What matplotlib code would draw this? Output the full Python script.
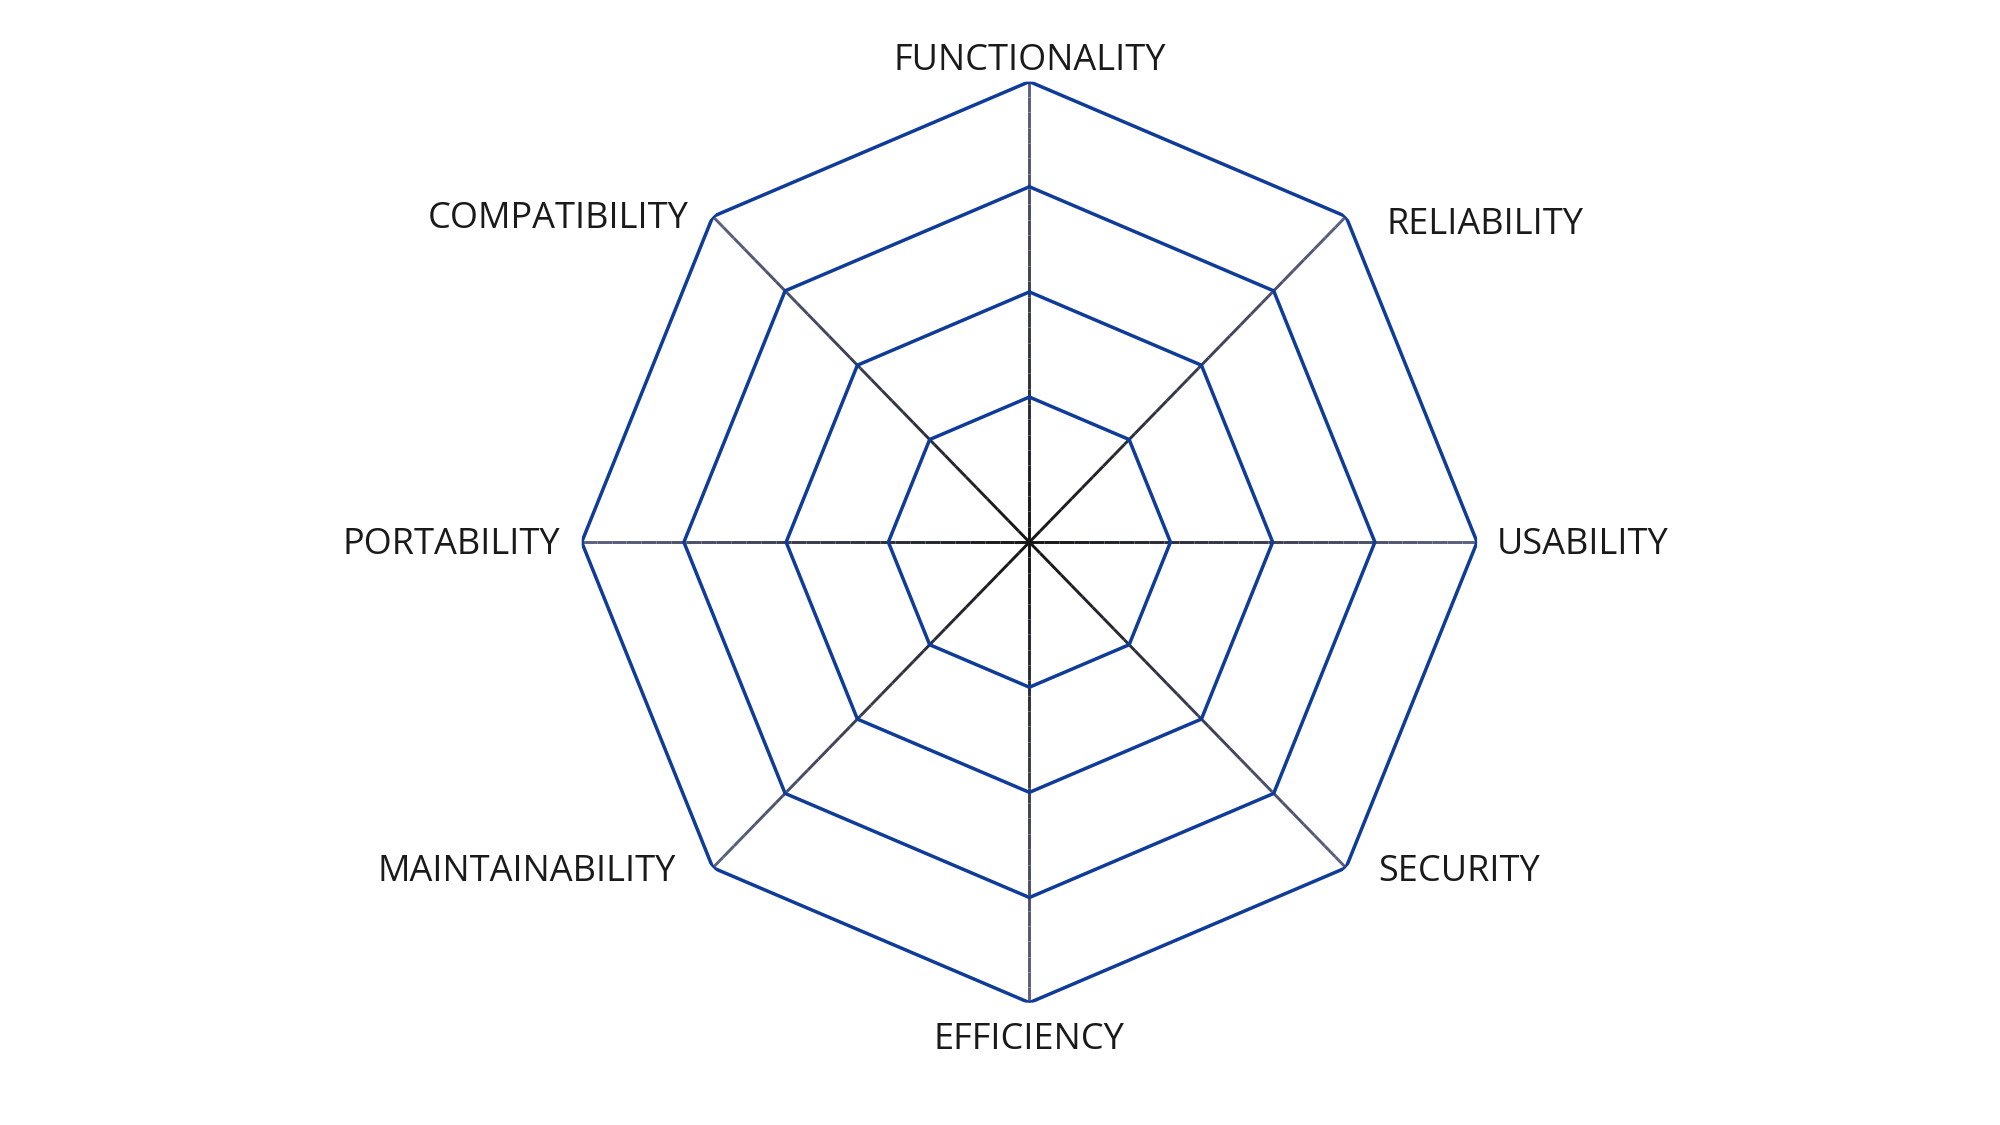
import numpy as np
import matplotlib.pyplot as plt
from matplotlib.colors import to_rgb

categories = ['FUNCTIONALITY', 'RELIABILITY', 'USABILITY', 'SECURITY',
              'EFFICIENCY', 'MAINTAINABILITY', 'PORTABILITY', 'COMPATIBILITY']
ring_levels = [1, 2, 3, 4]
r_origin = -0.38  # the inner ring sits away from the centre

# label offsets from the outer vertex, in pixels (dx, dy, ha)
label_offsets = [(0, 21, 'center'), (41, -8, 'left'), (20, -3, 'left'), (32, -4, 'left'),
                 (0, -37, 'center'), (-37, -4, 'right'), (-22, -3, 'right'), (-24, -2, 'right')]

ring_color = '#0f3c98'
spoke_inner = to_rgb('#141414')
spoke_outer = to_rgb('#5d6283')

plt.rcParams['font.family'] = ['Open Sans', 'DejaVu Sans']

fig = plt.figure(figsize=(20, 11.25), dpi=100)
# the web is a bit taller than wide in the original
cx, cy, w, h = 0.5147, 0.5181, 0.4477, 0.8187
ax = fig.add_axes([cx - w / 2, cy - h / 2, w, h], polar=True)
ax.set_aspect('auto')
ax.set_theta_offset(np.pi / 2)
ax.set_theta_direction(-1)

n = len(categories)
angles = np.arange(n) * 2 * np.pi / n
rmax = ring_levels[-1]

# spokes with dark-to-grey gradient
steps = 30
rs = np.linspace(r_origin, rmax, steps + 1)
for a in angles:
    for i in range(steps):
        t = (i + 0.5) / steps
        c = tuple(spoke_inner[k] + (spoke_outer[k] - spoke_inner[k]) * t for k in range(3))
        ax.plot([a, a], [rs[i], rs[i + 1]], color=c, lw=2.1, solid_capstyle='butt', zorder=2)

# octagon rings
closed = np.append(angles, angles[0])
for r in ring_levels:
    ax.plot(closed, [r] * len(closed), color=ring_color, lw=2.5, zorder=3)

for a, name, (dx, dy, ha) in zip(angles, categories, label_offsets):
    ax.annotate(name, xy=(a, rmax), xytext=(dx, dy), textcoords='offset pixels',
                ha=ha, va='center', fontsize=26, color='#1a1a1a')

ax.set_ylim(r_origin, rmax)
ax.grid(False)
ax.set_xticks([])
ax.set_yticks([])
ax.spines['polar'].set_visible(False)
ax.patch.set_visible(False)

fig.savefig('out.png', dpi=100, facecolor='white')
